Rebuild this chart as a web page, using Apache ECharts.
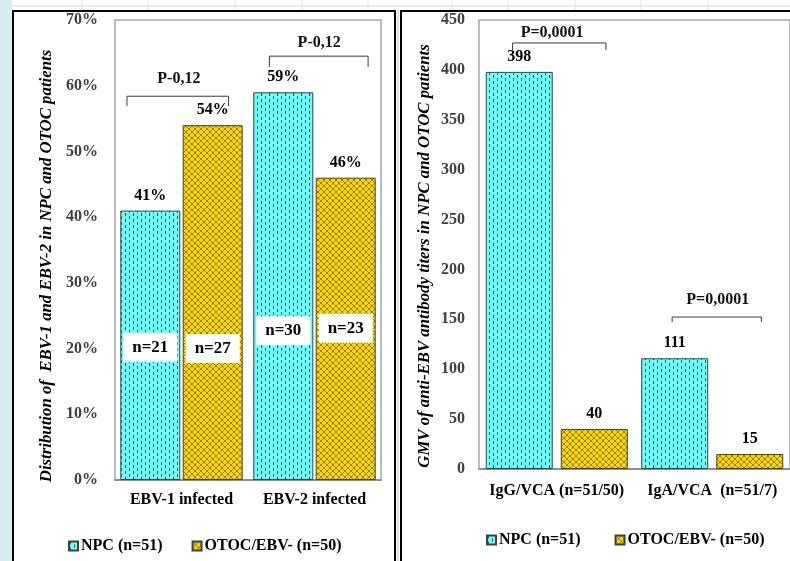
<!DOCTYPE html>
<html>
<head>
<meta charset="utf-8">
<script src="https://cdn.jsdelivr.net/npm/echarts@6/dist/echarts.min.js"></script>
<style>
html,body{margin:0;padding:0;background:#ffffff;}
#c{width:790px;height:561px;}
</style>
</head>
<body>
<div id="c"></div>
<script>
// ---------- data ----------
const leftCategories = ['EBV-1 infected', 'EBV-2 infected'];
const leftNPC = [41, 59];
const leftOTOC = [54, 46];
const leftNPCCounts = ['n=21', 'n=30'];
const leftOTOCCounts = ['n=27', 'n=23'];
const leftPValues = ['P-0,12', 'P-0,12'];
const leftYTicks = [0, 10, 20, 30, 40, 50, 60, 70];

const rightCategories = ['IgG/VCA (n=51/50)', 'IgA/VCA  (n=51/7)'];
const rightNPC = [398, 111];
const rightOTOC = [40, 15];
const rightPValues = ['P=0,0001', 'P=0,0001'];
const rightYTicks = [0, 50, 100, 150, 200, 250, 300, 350, 400, 450];

const seriesNames = ['NPC (n=51)', 'OTOC/EBV- (n=50)'];
const leftTitle = 'Distribution of  EBV-1 and EBV-2 in NPC and OTOC patients';
const rightTitle = 'GMV of anti-EBV antibody titers in NPC and OTOC patients';

// ---------- patterns ----------
function cyanPattern() {
  const c = document.createElement('canvas');
  c.width = 8; c.height = 6;
  const g = c.getContext('2d');
  g.fillStyle = '#66fffb'; g.fillRect(0, 0, 8, 6);
  g.fillStyle = '#2b6f6f'; g.fillRect(1, 0, 1, 3);
  g.fillStyle = '#1d4545'; g.fillRect(5, 3, 1, 3);
  return c;
}
function yellowPattern() {
  const c = document.createElement('canvas');
  c.width = 6; c.height = 6;
  const g = c.getContext('2d');
  g.fillStyle = '#fdd600'; g.fillRect(0, 0, 6, 6);
  g.fillStyle = '#ffe633'; g.fillRect(2, 2, 2, 2);
  g.fillStyle = '#968400';
  for (let i = 0; i < 6; i++) { g.fillRect(i, i, 1, 1); g.fillRect(5 - i, i, 1, 1); }
  return c;
}
const cyanFill = { image: cyanPattern(), repeat: 'repeat' };
const yellowFill = { image: yellowPattern(), repeat: 'repeat' };

const FONT = 'Liberation Serif';
const barLabel = (fmt) => ({
  show: true, position: 'top', distance: 7, formatter: fmt,
  fontFamily: FONT, fontWeight: 'bold', fontSize: 16, color: '#000'
});
const countMark = (counts, ys) => ({
  symbol: 'rect', symbolSize: 1,
  itemStyle: { color: 'rgba(0,0,0,0)' },
  label: {
    show: true, position: 'inside', formatter: '{b}',
    backgroundColor: '#ffffff', padding: [6, 9],
    fontFamily: FONT, fontWeight: 'bold', fontSize: 17, color: '#000'
  },
  data: counts.map((t, i) => ({ name: t, coord: [i, ys[i]] }))
});

// bracket: [catIndex, yTop, yLeg, yText, centerOffsetFrac, halfWidthFrac, textOffsetFrac]
function bracketSeries(xi, yi, rows, labels) {
  return {
    type: 'custom', xAxisIndex: xi, yAxisIndex: yi, silent: true, z: 5,
    data: rows,
    encode: { x: 0, y: 1 },
    renderItem: function (params, api) {
      const cat = api.value(0);
      const top = api.coord([cat, api.value(1)]);
      const leg = api.coord([cat, api.value(2)]);
      const txt = api.coord([cat, api.value(3)]);
      const band = api.size([1, 0])[0];
      const cx = top[0] + api.value(4) * band;
      const hw = api.value(5) * band;
      return {
        type: 'group',
        children: [
          { type: 'polyline', shape: { points: [[cx - hw, leg[1]], [cx - hw, top[1]], [cx + hw, top[1]], [cx + hw, leg[1]]] },
            style: { stroke: '#3a3a3a', lineWidth: 1, fill: null } },
          { type: 'text', x: top[0] + api.value(6) * band, y: txt[1],
            style: { text: labels[params.dataIndex], textAlign: 'center', textVerticalAlign: 'middle',
              fontFamily: FONT, fontWeight: 'bold', fontSize: 16, fill: '#111' } }
        ]
      };
    }
  };
}

const axisLabelY = { fontFamily: FONT, fontWeight: 'bold', fontSize: 16, color: '#404040' };
const axisLabelX = { fontFamily: FONT, fontWeight: 'bold', fontSize: 16, color: '#000', interval: 0 };

const chart = echarts.init(document.getElementById('c'), null, { renderer: 'canvas' });

const option = {
  animation: false,
  backgroundColor: '#ffffff',
  graphic: [
    { type: 'rect', shape: { x: 0, y: 0, width: 12, height: 561 }, style: { fill: '#d9ecf3' }, z: -10 },
    { type: 'line', shape: { x1: 12, y1: 6, x2: 790, y2: 6 }, style: { stroke: '#d8d8d8', lineWidth: 1 }, z: -10 },
    { type: 'line', shape: { x1: 82, y1: 0, x2: 82, y2: 10 }, style: { stroke: '#e2e2e2', lineWidth: 1 }, z: -10 },
    { type: 'line', shape: { x1: 148, y1: 0, x2: 148, y2: 10 }, style: { stroke: '#e2e2e2', lineWidth: 1 }, z: -10 },
    { type: 'line', shape: { x1: 235, y1: 0, x2: 235, y2: 10 }, style: { stroke: '#e2e2e2', lineWidth: 1 }, z: -10 },
    { type: 'line', shape: { x1: 302, y1: 0, x2: 302, y2: 10 }, style: { stroke: '#e2e2e2', lineWidth: 1 }, z: -10 },
    { type: 'line', shape: { x1: 368, y1: 0, x2: 368, y2: 10 }, style: { stroke: '#e2e2e2', lineWidth: 1 }, z: -10 },
    { type: 'line', shape: { x1: 452, y1: 0, x2: 452, y2: 10 }, style: { stroke: '#e2e2e2', lineWidth: 1 }, z: -10 },
    { type: 'line', shape: { x1: 508, y1: 0, x2: 508, y2: 10 }, style: { stroke: '#e2e2e2', lineWidth: 1 }, z: -10 },
    { type: 'line', shape: { x1: 575, y1: 0, x2: 575, y2: 10 }, style: { stroke: '#e2e2e2', lineWidth: 1 }, z: -10 },
    { type: 'line', shape: { x1: 641, y1: 0, x2: 641, y2: 10 }, style: { stroke: '#e2e2e2', lineWidth: 1 }, z: -10 },
    { type: 'line', shape: { x1: 708, y1: 0, x2: 708, y2: 10 }, style: { stroke: '#e2e2e2', lineWidth: 1 }, z: -10 },
    { type: 'rect', shape: { x: 13, y: 11, width: 382, height: 560 }, style: { fill: '#ffffff', stroke: '#000', lineWidth: 2 }, z: -9 },
    { type: 'rect', shape: { x: 401, y: 11, width: 400, height: 560 }, style: { fill: '#ffffff', stroke: '#000', lineWidth: 2 }, z: -9 },
    { type: 'line', shape: { x1: 398, y1: 10, x2: 398, y2: 561 }, style: { stroke: '#bdbdbd', lineWidth: 1 }, z: -9 },
    { type: 'text', x: 47, y: 266, rotation: Math.PI / 2,
      style: { text: leftTitle, textAlign: 'center', textVerticalAlign: 'middle',
        fontFamily: FONT, fontWeight: 'bold', fontStyle: 'italic', fontSize: 16.8, fill: '#000' } },
    { type: 'text', x: 425, y: 256, rotation: Math.PI / 2,
      style: { text: rightTitle, textAlign: 'center', textVerticalAlign: 'middle',
        fontFamily: FONT, fontWeight: 'bold', fontStyle: 'italic', fontSize: 16.8, fill: '#000' } }
  ],
  legend: [
    { left: 63, top: 533, itemWidth: 9, itemHeight: 9, itemGap: 29, icon: 'rect',
      textStyle: { fontFamily: FONT, fontWeight: 'bold', fontSize: 16, color: '#000', padding: [0, 0, 0, -2] },
      data: seriesNames, selectedMode: false },
    { left: 481, top: 527, itemWidth: 9, itemHeight: 9, itemGap: 34, icon: 'rect',
      textStyle: { fontFamily: FONT, fontWeight: 'bold', fontSize: 16, color: '#000', padding: [0, 0, 0, -2] },
      data: seriesNames, selectedMode: false }
  ],
  grid: [
    { left: 115, top: 20, width: 266, height: 460, show: true, borderColor: '#a6a6a6', borderWidth: 1.5, backgroundColor: '#fff' },
    { left: 479, top: 20, width: 314, height: 449, show: true, borderColor: '#a6a6a6', borderWidth: 1.5, backgroundColor: '#fff' }
  ],
  xAxis: [
    { type: 'category', gridIndex: 0, data: leftCategories,
      axisLine: { lineStyle: { color: '#7f7f7f', width: 1.5 } }, axisTick: { show: false },
      axisLabel: Object.assign({ margin: 12 }, axisLabelX) },
    { type: 'category', gridIndex: 1, data: rightCategories,
      axisLine: { lineStyle: { color: '#7f7f7f', width: 1.5 } }, axisTick: { show: false },
      axisLabel: Object.assign({ margin: 14 }, axisLabelX) }
  ],
  yAxis: [
    { type: 'value', gridIndex: 0, min: leftYTicks[0], max: leftYTicks[leftYTicks.length - 1], interval: leftYTicks[1] - leftYTicks[0],
      axisLine: { show: false }, axisTick: { show: false }, splitLine: { show: false },
      axisLabel: Object.assign({ margin: 17, formatter: '{value}%' }, axisLabelY) },
    { type: 'value', gridIndex: 1, min: rightYTicks[0], max: rightYTicks[rightYTicks.length - 1], interval: rightYTicks[1] - rightYTicks[0],
      axisLine: { show: false }, axisTick: { show: false }, splitLine: { show: false },
      axisLabel: Object.assign({ margin: 14 }, axisLabelY) }
  ],
  series: [
    { name: seriesNames[0], type: 'bar', xAxisIndex: 0, yAxisIndex: 0, data: leftNPC,
      barWidth: 60, barGap: '4%',
      itemStyle: { color: cyanFill, borderColor: '#404040', borderWidth: 1 },
      label: barLabel('{c}%'),
      markPoint: countMark(leftNPCCounts, [20.2, 22.7]) },
    { name: seriesNames[1], type: 'bar', xAxisIndex: 0, yAxisIndex: 0, data: leftOTOC,
      barWidth: 60, barGap: '4%',
      itemStyle: { color: yellowFill, borderColor: '#404040', borderWidth: 1 },
      label: barLabel('{c}%'),
      markPoint: countMark(leftOTOCCounts, [20.0, 23.1]) },
    { name: seriesNames[0], type: 'bar', xAxisIndex: 1, yAxisIndex: 1, data: rightNPC,
      barWidth: 67, barGap: '12%',
      itemStyle: { color: cyanFill, borderColor: '#404040', borderWidth: 1 },
      label: barLabel('{c}') },
    { name: seriesNames[1], type: 'bar', xAxisIndex: 1, yAxisIndex: 1, data: rightOTOC,
      barWidth: 67, barGap: '12%',
      itemStyle: { color: yellowFill, borderColor: '#404040', borderWidth: 1 },
      label: barLabel('{c}') },
    bracketSeries(0, 0, [[0, 58.4, 56.9, 61.0, -0.028, 0.382, -0.02], [1, 64.5, 62.85, 66.5, 0.032, 0.371, 0.035]], leftPValues),
    bracketSeries(1, 1, [[0, 427, 420, 437, 0.016, 0.3, -0.03], [1, 152.3, 147.3, 169.4, 0.029, 0.287, 0.035]], rightPValues)
  ]
};
chart.setOption(option);
</script>
</body>
</html>
